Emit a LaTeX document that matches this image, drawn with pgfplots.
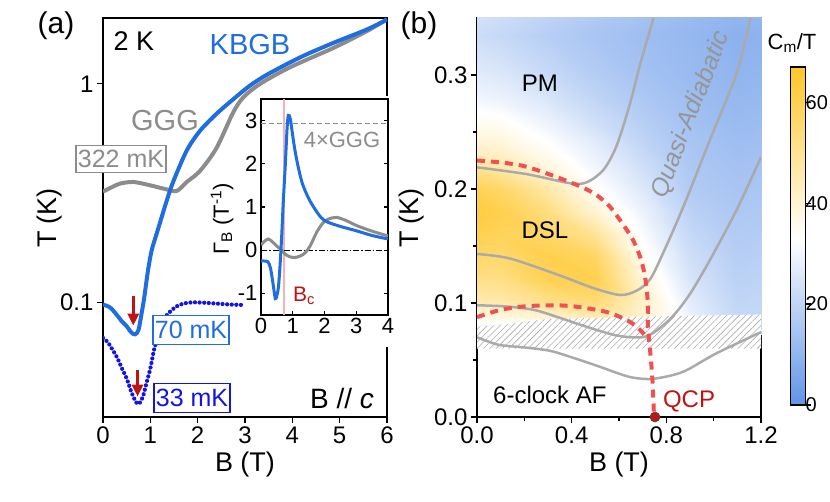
\documentclass[border=0pt]{standalone}
\usepackage{fontspec}
\setmainfont{Liberation Sans}
\usepackage{pgfplots}
\pgfplotsset{compat=1.18}
\usetikzlibrary{arrows.meta,patterns.meta}
\newcommand\fs[1]{\fontsize{#1}{#1}\selectfont}
\definecolor{kb}{RGB}{30,110,225}
\definecolor{gg}{RGB}{140,140,140}
\definecolor{dk}{RGB}{20,20,225}
\definecolor{rd}{RGB}{240,80,80}
\definecolor{drd}{RGB}{190,20,20}
\definecolor{lg}{RGB}{170,170,170}
\definecolor{qa}{RGB}{150,150,150}
\definecolor{pk}{RGB}{245,178,178}
\pgfplotsset{myax/.style={scale only axis, anchor=south west,
  /pgf/number format/assume math mode=true,
  axis line style={line width=1.8pt},
  tick style={line width=1.3pt, black},
  major tick length=6pt, minor tick length=4pt,
  tick label style={font=\fs{24}}}}

\pgfplotstableread{
x y c
0 0.08 25
0.2 0.08 22
0.4 0.08 20
0.6 0.08 22
0.8 0.08 34
1.0 0.08 27
1.2 0.08 21
0 0.095 38
0.2 0.095 38
0.4 0.095 40
0.6 0.095 45
0.8 0.095 40
1.0 0.095 29
1.2 0.095 21
0 0.11 45
0.2 0.11 47
0.4 0.11 52
0.6 0.11 55
0.8 0.11 42
1.0 0.11 27
1.2 0.11 20
0 0.13 51
0.2 0.13 52
0.4 0.13 60
0.6 0.13 61
0.8 0.13 39
1.0 0.13 25
1.2 0.13 19
0 0.15 57
0.2 0.15 56
0.4 0.15 61
0.6 0.15 58
0.8 0.15 35
1.0 0.15 23
1.2 0.15 18
0 0.17 62
0.2 0.17 59
0.4 0.17 57
0.6 0.17 50
0.8 0.17 32
1.0 0.17 21
1.2 0.17 17
0 0.19 65
0.2 0.19 61
0.4 0.19 53
0.6 0.19 40
0.8 0.19 29
1.0 0.19 19
1.2 0.19 16
0 0.21 62
0.2 0.21 57
0.4 0.21 47
0.6 0.21 34
0.8 0.21 26
1.0 0.21 17
1.2 0.21 15
0 0.23 52
0.2 0.23 46
0.4 0.23 38
0.6 0.23 30
0.8 0.23 23
1.0 0.23 16
1.2 0.23 14
0 0.25 41
0.2 0.25 39
0.4 0.25 33
0.6 0.25 27
0.8 0.25 20
1.0 0.25 15
1.2 0.25 13
0 0.27 35
0.2 0.27 34
0.4 0.27 29
0.6 0.27 23
0.8 0.27 18
1.0 0.27 14
1.2 0.27 12
0 0.29 31
0.2 0.29 29
0.4 0.29 25
0.6 0.29 20
0.8 0.29 16
1.0 0.29 13
1.2 0.29 11
0 0.32 27
0.2 0.32 25
0.4 0.32 21
0.6 0.32 17
0.8 0.32 14
1.0 0.32 12
1.2 0.32 10
0 0.35 24
0.2 0.35 21
0.4 0.35 18
0.6 0.35 15
0.8 0.35 13
1.0 0.35 11
1.2 0.35 9
}\heat

\begin{document}
\begin{tikzpicture}[x=1pt,y=1pt]
\useasboundingbox (0,0) rectangle (830,501);
%================ panel (a) =================
\begin{axis}[myax, at={(103pt,84pt)}, width=284pt, height=399pt,
  xmin=0, xmax=6, ymode=log, ymin=0.03, ymax=2,
  xtick={0,1,2,3,4,5,6}, ytick={0.1,1}, yticklabels={0.1,1},
  yminorticks=false, tick align=outside, xtick pos=bottom, ytick pos=left]
\addplot[gg, line width=4pt, smooth] coordinates {
(0,0.322) (0.2,0.338) (0.36,0.35) (0.64,0.356) (0.99,0.344) (1.35,0.329)
(1.56,0.324) (1.77,0.356) (2.05,0.40) (2.4,0.51) (2.75,0.74) (2.97,0.87)
(3.32,1.0) (3.95,1.19) (4.87,1.46) (5.57,1.74) (6,1.97)};
\addplot[kb, line width=4pt, smooth] coordinates {
(0,0.098) (0.15,0.095) (0.29,0.088) (0.4,0.082) (0.5,0.078) (0.6,0.073)
(0.68,0.0716) (0.75,0.075) (0.81,0.088) (0.87,0.105) (0.95,0.14) (1.03,0.174)
(1.135,0.207) (1.35,0.294) (1.49,0.36) (1.77,0.496) (2.05,0.61) (2.4,0.73)
(2.75,0.85) (3.1,0.98) (3.46,1.10) (4.16,1.32) (4.87,1.54) (5.57,1.77) (6,1.97)};
\addplot[dk, line width=4.2pt, line cap=round, dash pattern=on 0pt off 4.6pt, smooth] coordinates {
(0,0.069) (0.1,0.066) (0.2,0.061) (0.3,0.056) (0.4,0.05) (0.5,0.045) (0.6,0.039)
(0.7,0.035) (0.76,0.0345) (0.84,0.037) (0.92,0.043) (1.0,0.05) (1.08,0.061)
(1.2,0.075) (1.32,0.086) (1.42,0.091) (1.55,0.096) (1.7,0.099) (1.9,0.1003)
(2.1,0.1) (2.4,0.099) (2.7,0.098) (3.0,0.0975)};
\draw[drd, line width=2.8pt, -{Triangle[width=11pt,length=12pt]}] (axis cs:0.64,0.107) -- (axis cs:0.64,0.0785);
\draw[drd, line width=2.8pt, -{Triangle[width=11pt,length=12pt]}] (axis cs:0.73,0.049) -- (axis cs:0.73,0.0372);
\end{axis}
\node[font=\fs{30}] at (56,475) {(a)};
\node[font=\fs{27}] at (134,460) {2 K};
\node[font=\fs{29}, text=kb] at (250,456) {KBGB};
\node[font=\fs{29}, text=gg] at (165,380) {GGG};
\node[font=\fs{25}, text=gg, draw=gg, line width=1.5pt, fill=white, inner xsep=2pt, inner ysep=4pt, text height=18pt, text depth=1pt] at (121,342) {322 mK};
\node[font=\fs{25}, text=kb, draw=kb, line width=1.5pt, fill=white, inner xsep=2pt, inner ysep=5pt, text height=18pt, text depth=1pt] at (191,171) {70 mK};
\node[font=\fs{25}, text=dk, draw=dk, line width=1.5pt, fill=white, inner xsep=2pt, inner ysep=5pt, text height=18pt, text depth=1pt] at (192,103) {33 mK};
\node[font=\fs{28}] at (342,103) {B // \textit{c}};
\node[font=\fs{27}, rotate=90] at (50,283) {T (K)};
\node[font=\fs{27}] at (245,36) {B (T)};
%================ inset =================
\fill[white] (256,154) rectangle (391,405);
\begin{axis}[myax, at={(261pt,186pt)}, width=127pt, height=216pt,
  xmin=0, xmax=4, ymin=-1.5, ymax=3.5,
  xtick={0,1,2,3,4}, ytick={-1,0,1,2,3}, yticklabels={-1,0,1,2,3},
  tick align=inside, xtick pos=bottom, ytick pos=both, major tick length=4pt,
  tick label style={font=\fs{22}}, axis background/.style={fill=white}]
\addplot[pk, line width=2.5pt] coordinates {(0.73,-1.5) (0.73,3.5)};
\addplot[gg, line width=1.5pt, dash pattern=on 5pt off 3pt] coordinates {(0,2.93) (4,2.93)};
\addplot[black, line width=1pt, dash pattern=on 6pt off 2pt on 1.5pt off 2pt] coordinates {(0,0) (4,0)};
\addplot[gg, line width=3pt, smooth] coordinates {
(0,0.12) (0.1,0.2) (0.23,0.26) (0.35,0.2) (0.49,0.1) (0.65,0.0) (0.76,-0.09)
(0.9,-0.15) (1.07,-0.17) (1.25,-0.13) (1.39,-0.06) (1.55,0.1) (1.75,0.41)
(1.95,0.63) (2.12,0.72) (2.38,0.76) (2.7,0.68) (3.01,0.57) (3.5,0.44) (4,0.33)};
\addplot[kb, line width=3pt, smooth] coordinates {
(0,-0.25) (0.1,-0.25) (0.22,-0.27) (0.3,-0.42) (0.38,-0.78) (0.45,-1.12)
(0.5,-1.05) (0.55,-0.85) (0.6,-0.35) (0.65,0.3) (0.7,1.1) (0.76,1.9) (0.82,2.8)
(0.86,3.12) (0.92,3.05) (0.98,2.75) (1.05,2.4) (1.15,2.0) (1.3,1.55) (1.5,1.2)
(1.7,0.95) (1.9,0.75) (2.1,0.65) (2.5,0.55) (3.0,0.45) (3.5,0.34) (4.0,0.26)};
\end{axis}
\node[font=\fs{22}, text=gg] at (342,361) {4×GGG};
\node[font=\fs{21}, text=drd] at (304,205) {B\textsubscript{c}};
\node[font=\fs{22}, rotate=90] at (222,282) {Γ\textsubscript{B} (T\textsuperscript{-1})};
%================ panel (b) =================
\begin{axis}[myax, at={(477pt,84pt)}, width=284pt, height=399pt,
  xmin=0, xmax=1.2, ymin=0, ymax=0.35,
  xtick={0,0.4,0.8,1.2}, ytick={0,0.1,0.2,0.3},
  minor x tick num=1, minor y tick num=1,
  tick align=outside, xtick pos=bottom, ytick pos=left,
  xticklabel style={/pgf/number format/.cd, fixed, fixed zerofill, precision=1},
  yticklabel style={/pgf/number format/.cd, fixed, fixed zerofill, precision=1},
  colormap={cm}{rgb255(0pt)=(96,148,232); rgb255(33pt)=(255,255,255); rgb255(67pt)=(255,198,40)},
  point meta min=0, point meta max=67,
  colorbar,
  colorbar style={at={(parent axis.south east)}, anchor=south west, xshift=21pt, yshift=12pt,
    scale only axis, width=15pt, height=338pt,
    ytick={0,20,40,60}, yticklabel pos=right, ytick pos=right, tick align=outside,
    major tick length=5pt, axis line style={line width=1.8pt},
    tick style={line width=1.3pt, black},
    yticklabel style={font=\fs{20}, anchor=west, inner xsep=0pt, xshift=-5pt, /pgf/number format/assume math mode=true}}]
\addplot[matrix plot*, mesh/cols=7, point meta=explicit, shader=interp] table[x=x, y=y, meta=c] {\heat};
\fill[white] (axis cs:0,0.06) -- (axis cs:0,0.079) -- (axis cs:0.15,0.082) -- (axis cs:0.3,0.086) -- (axis cs:0.7,0.088) -- (axis cs:1.2,0.09) -- (axis cs:1.2,0.06) -- cycle;
\fill[pattern={Lines[angle=45,distance=4.5pt,line width=0.6pt]}, pattern color=lg] (axis cs:0,0.06) -- (axis cs:0,0.079) -- (axis cs:0.15,0.082) -- (axis cs:0.3,0.086) -- (axis cs:0.7,0.088) -- (axis cs:1.2,0.09) -- (axis cs:1.2,0.06) -- cycle;
\addplot[lg, line width=2.5pt, smooth] coordinates {
(0,0.219) (0.211,0.213) (0.394,0.205) (0.465,0.206) (0.535,0.217) (0.59,0.238)
(0.648,0.276) (0.69,0.31) (0.746,0.35)};
\addplot[lg, line width=2.5pt, smooth] coordinates {
(0,0.143) (0.14,0.139) (0.352,0.124) (0.493,0.113) (0.606,0.107) (0.676,0.111)
(0.732,0.121) (0.789,0.145) (0.873,0.185) (0.986,0.244) (1.098,0.302) (1.155,0.35)};
\addplot[lg, line width=2.5pt, smooth] coordinates {
(0,0.098) (0.12,0.097) (0.24,0.094) (0.35,0.087) (0.45,0.08) (0.59,0.0715)
(0.7,0.07) (0.76,0.076) (0.83,0.089) (0.9,0.108) (0.985,0.138) (1.1,0.183) (1.2,0.228)};
\addplot[lg, line width=2.5pt, smooth] coordinates {
(0,0.07) (0.05,0.066) (0.1,0.063) (0.2,0.061) (0.31,0.058) (0.42,0.051) (0.52,0.044)
(0.6,0.038) (0.66,0.0345) (0.745,0.0335) (0.87,0.0396) (1.01,0.0557) (1.2,0.0744)};
\addplot[rd, line width=4pt, dash pattern=on 8pt off 6pt, smooth] coordinates {
(0,0.225) (0.2,0.22) (0.45,0.201) (0.55,0.187) (0.62,0.168) (0.66,0.155) (0.69,0.14)
(0.71,0.123) (0.722,0.1) (0.722,0.08) (0.735,0.05) (0.742,0.03) (0.748,0)};
\addplot[rd, line width=4pt, dash pattern=on 8pt off 6pt, smooth] coordinates {
(0,0.0876) (0.1,0.094) (0.2,0.097) (0.31,0.098) (0.41,0.097) (0.55,0.092)
(0.65,0.083) (0.7,0.074) (0.72,0.068)};
\addplot[only marks, mark=*, mark size=5pt, drd, mark options={draw=gray!60!black, line width=0.6pt}] coordinates {(0.752,0)};
\node[font=\fs{24}] at (axis cs:0.266,0.293) {PM};
\node[font=\fs{24}] at (axis cs:0.287,0.164) {DSL};
\node[font=\fs{24}] at (axis cs:0.308,0.019) {6-clock AF};
\node[font=\fs{24}, text=drd] at (axis cs:0.896,0.014) {QCP};
\node[font=\fs{25}\itshape, text=qa, rotate=68.7] at (axis cs:0.904,0.265) {Quasi-Adiabatic};
\end{axis}
\node[font=\fs{30}] at (419,475) {(b)};
\node[font=\fs{27}, rotate=90] at (412,283) {T (K)};
\node[font=\fs{27}] at (619,36) {B (T)};
\node[font=\fs{22}] at (792,458) {C\textsubscript{m}/T};
\end{tikzpicture}
\end{document}
